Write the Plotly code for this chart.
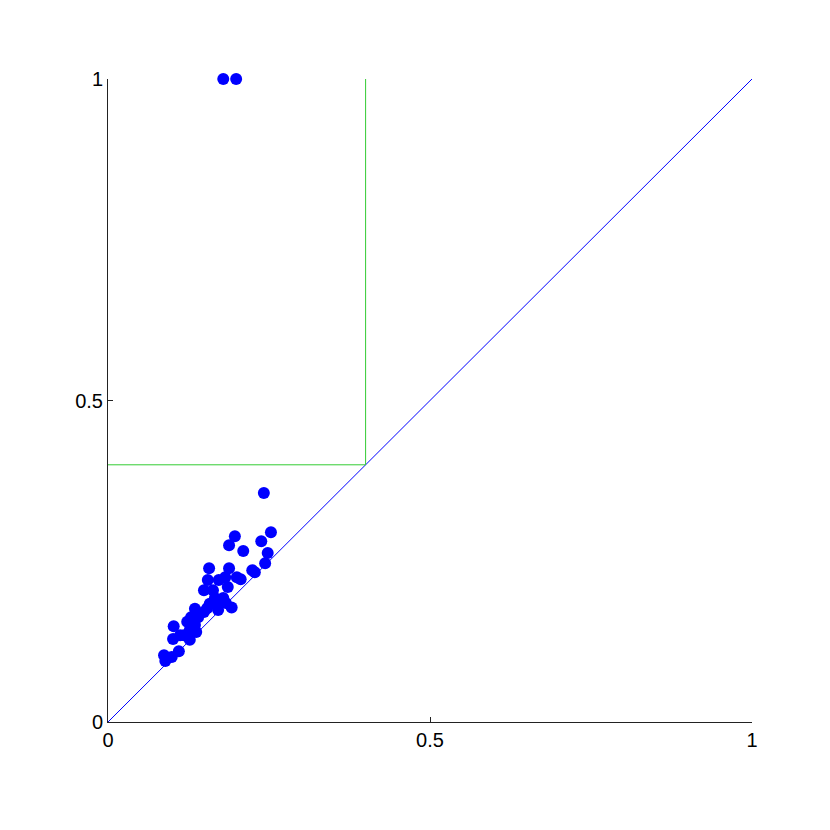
import plotly.graph_objects as go

# scatter points
x_pts = [0.179, 0.199, 0.242, 0.253, 0.197, 0.238, 0.188, 0.210, 0.248, 0.157,
         0.188, 0.224, 0.228, 0.244, 0.200, 0.206, 0.155, 0.172, 0.182, 0.149,
         0.186, 0.163, 0.166, 0.179, 0.158, 0.171, 0.183, 0.154, 0.171, 0.135,
         0.129, 0.140, 0.149, 0.123, 0.135, 0.127, 0.137, 0.118, 0.127, 0.102,
         0.101, 0.112, 0.110, 0.087, 0.099, 0.089, 0.176, 0.192]
y_pts = [1.000, 1.000, 0.356, 0.295, 0.289, 0.281, 0.275, 0.266, 0.263, 0.239,
         0.239, 0.236, 0.233, 0.247, 0.225, 0.222, 0.221, 0.221, 0.225, 0.205,
         0.210, 0.205, 0.193, 0.193, 0.184, 0.184, 0.185, 0.177, 0.174, 0.176,
         0.163, 0.163, 0.171, 0.156, 0.151, 0.143, 0.140, 0.135, 0.128, 0.149,
         0.129, 0.135, 0.110, 0.104, 0.101, 0.095, 0.187, 0.178]

diag = [0, 1]
thr = 0.4
tick_vals = [0, 0.5, 1]
tick_text = ["0", "0.5", "1"]

fig = go.Figure()
fig.add_trace(go.Scatter(x=x_pts, y=y_pts, mode="markers",
                         marker=dict(color="#0000ff", size=12), cliponaxis=False))
fig.add_trace(go.Scatter(x=diag, y=diag, mode="lines",
                         line=dict(color="#0000ff", width=1), hoverinfo="skip"))
fig.add_trace(go.Scatter(x=[0, thr, thr], y=[thr, thr, 1], mode="lines",
                         line=dict(color="#33cc33", width=1), hoverinfo="skip"))

axis = dict(range=[0, 1], tickvals=tick_vals, ticktext=tick_text,
            ticks="inside", ticklen=5, tickcolor="#222", showline=True,
            linecolor="#222", linewidth=1, showgrid=False, zeroline=False,
            tickfont=dict(family="Liberation Sans, Arial", size=20, color="black"))

fig.update_layout(
    width=830, height=830, showlegend=False,
    plot_bgcolor="white", paper_bgcolor="white",
    margin=dict(l=100, r=86, t=71, b=116),
    xaxis=axis, yaxis=axis,
)
fig.write_html("out.html")
